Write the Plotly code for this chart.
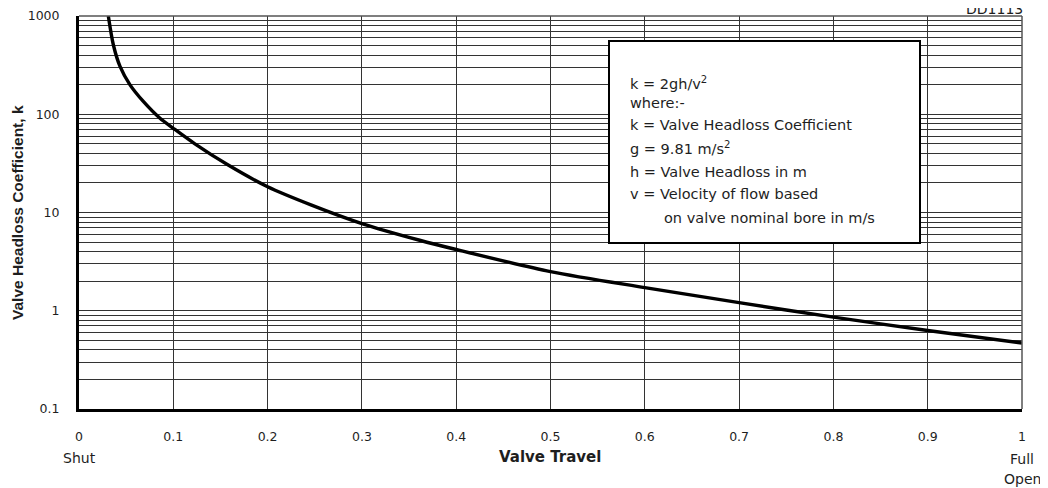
import plotly.graph_objects as go

# Data
travel = [0.0311, 0.0364, 0.0435, 0.0541, 0.0682, 0.0859, 0.1, 0.1229, 0.1582, 0.2,
          0.2466, 0.3, 0.3613, 0.4, 0.5, 0.6, 0.7, 0.8, 0.9, 1.0]
k_coef = [1000, 510, 307, 199, 135, 91, 72, 50, 30.4, 18.3,
          11.9, 7.72, 5.22, 4.2, 2.5, 1.72, 1.21, 0.86, 0.63, 0.47]

x_ticks = [0, 0.1, 0.2, 0.3, 0.4, 0.5, 0.6, 0.7, 0.8, 0.9, 1]
x_ticktext = ["0", "0.1", "0.2", "0.3", "0.4", "0.5", "0.6", "0.7", "0.8", "0.9", "1"]
y_decades = [0.1, 1, 10, 100, 1000]
y_decade_labels = ["0.1", "1", "10", "100", "1000"]

box_lines = [
    "k = 2gh/v<sup>2</sup>",
    "where:-",
    "k = Valve Headloss Coefficient",
    "g = 9.81 m/s<sup>2</sup>",
    "h = Valve Headloss in m",
    "v = Velocity of flow based",
    "on valve nominal bore in m/s",
]
box_indent = [0, 0, 0, 0, 0, 0, 1]

FONT = "DejaVu Sans, Arial, sans-serif"
FONT_Y = "Liberation Sans, Arial, sans-serif"
TXT = "#1e1e1e"

# page geometry (the page adds an 8px body margin around the figure)
PL, PR, PT, PB = 79, 1022, 16, 409


def px(xp):
    return (xp - PL) / (PR - PL)


def py(yp):
    return (PB - yp) / (PB - PT)


# y tick positions: all 1..9 multiples per decade, labels only on decades
y_tickvals = []
y_ticktext = []
for i, d in enumerate(y_decades[:-1]):
    for m in range(1, 10):
        y_tickvals.append(round(d * m, 6))
        y_ticktext.append(y_decade_labels[i] if m == 1 else "")
y_tickvals.append(y_decades[-1])
y_ticktext.append(y_decade_labels[-1])

fig = go.Figure()
fig.add_trace(go.Scatter(
    x=travel, y=k_coef, mode="lines",
    line=dict(color="black", width=3.4, shape="spline", smoothing=0.8),
    showlegend=False, hoverinfo="skip",
))

fig.update_layout(
    width=1040, height=480,
    margin=dict(l=PL - 8, r=1040 - (PR - 8), t=PT - 8, b=480 - (PB - 8), autoexpand=False),
    paper_bgcolor="white", plot_bgcolor="white",
    font=dict(family=FONT, size=12, color=TXT),
    xaxis=dict(
        range=[0, 1], tickvals=x_ticks, ticktext=x_ticktext,
        showgrid=True, gridcolor="#333", gridwidth=1.2,
        zeroline=False, showline=True, linecolor="black", linewidth=3,
        ticks="outside", ticklen=14, tickcolor="rgba(0,0,0,0)",
        tickfont=dict(size=12.5, family=FONT, color=TXT),
        automargin=False,
    ),
    yaxis=dict(
        type="log", range=[-1, 3], tickvals=y_tickvals, ticktext=y_ticktext,
        showgrid=True, gridcolor="#333", gridwidth=1.2,
        zeroline=False, showline=True, linecolor="black", linewidth=3,
        ticks="outside", ticklen=14, tickcolor="rgba(0,0,0,0)",
        tickfont=dict(size=12.5, family=FONT, color=TXT),
        automargin=False,
    ),
)

# thin top / right borders
fig.add_shape(type="line", xref="paper", yref="paper", x0=0, x1=1, y0=1, y1=1,
              line=dict(color="#555", width=1.5))
fig.add_shape(type="line", xref="paper", yref="paper", x0=1, x1=1, y0=0, y1=1,
              line=dict(color="#555", width=1.5))

# info box
fig.add_shape(type="rect", xref="paper", yref="paper",
              x0=px(609), x1=px(920), y0=py(243), y1=py(41),
              fillcolor="white", line=dict(color="black", width=2), layer="above")

line_py = [83, 103, 125, 148, 172, 194, 218]
for txt, ypix, ind in zip(box_lines, line_py, box_indent):
    fig.add_annotation(
        xref="paper", yref="paper",
        x=px(662 if ind else 628), y=py(ypix),
        text=txt, showarrow=False, xanchor="left", yanchor="middle",
        font=dict(size=14.5, family=FONT, color=TXT),
    )

# axis titles
fig.add_annotation(xref="paper", yref="paper", x=px(550), y=py(457),
                   text="<b>Valve Travel</b>", showarrow=False,
                   xanchor="center", yanchor="middle",
                   font=dict(size=15, family=FONT, color=TXT))
fig.add_annotation(xref="paper", yref="paper", x=px(17), y=py(213),
                   text="<b>Valve Headloss Coefficient, k</b>", showarrow=False, textangle=-90,
                   xanchor="center", yanchor="middle",
                   font=dict(size=15.5, family=FONT_Y, color=TXT))

# end labels
for txt, xv, ypix in [("Shut", 0, 458), ("Full", 1, 459), ("Open", 1, 479)]:
    fig.add_annotation(xref="x", yref="paper", x=xv, y=py(ypix), text=txt,
                       showarrow=False, xanchor="center", yanchor="middle",
                       font=dict(size=14, family=FONT, color=TXT))

# drawing reference (clipped at top edge)
fig.add_annotation(xref="paper", yref="paper", x=px(994), y=py(9),
                   text="DD1113", showarrow=False, xanchor="center", yanchor="middle",
                   font=dict(size=14, family=FONT, color=TXT))

fig.write_html("out.html")
